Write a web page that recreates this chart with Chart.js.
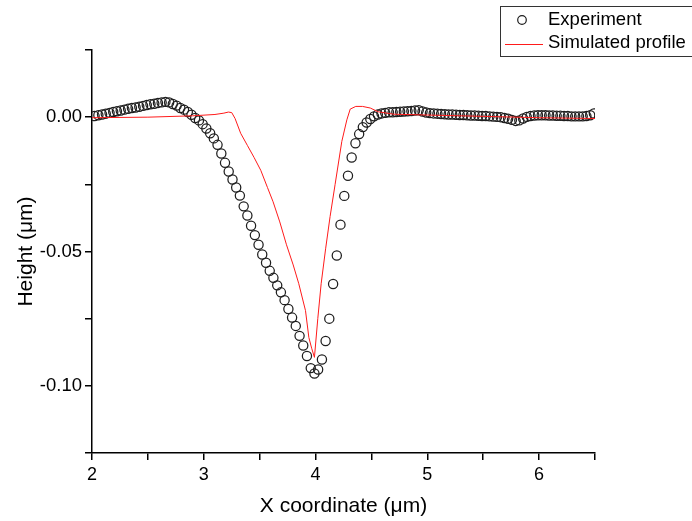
<!DOCTYPE html>
<html>
<head>
<meta charset="utf-8">
<script src="https://cdn.jsdelivr.net/npm/chart.js@4.4.1/dist/chart.umd.min.js"></script>
<style>
html,body{margin:0;padding:0;background:#fff;}
canvas{display:block;}
</style>
</head>
<body>
<canvas id="c" width="692" height="521"></canvas>
<script>
// Experiment: X coordinate (µm)
const expX = [2.023,2.057,2.090,2.123,2.157,2.190,2.223,2.257,2.290,2.323,
2.357,2.390,2.423,2.457,2.490,2.523,2.557,2.590,2.623,2.657,
2.690,2.723,2.757,2.790,2.823,2.857,2.890,2.923,2.957,2.990,
3.023,3.057,3.090,3.123,3.157,3.190,3.223,3.257,3.290,3.323,
3.357,3.390,3.423,3.457,3.490,3.523,3.557,3.590,3.623,3.657,
3.690,3.723,3.757,3.790,3.823,3.857,3.890,3.923,3.957,3.990,
4.023,4.057,4.090,4.123,4.157,4.190,4.223,4.257,4.290,4.323,
4.357,4.390,4.423,4.457,4.490,4.523,4.557,4.590,4.623,4.657,
4.690,4.723,4.757,4.790,4.823,4.857,4.890,4.923,4.957,4.990,
5.023,5.057,5.090,5.123,5.157,5.190,5.223,5.257,5.290,5.323,
5.357,5.390,5.423,5.457,5.490,5.523,5.557,5.590,5.623,5.657,
5.690,5.723,5.757,5.790,5.823,5.857,5.890,5.923,5.957,5.990,
6.023,6.057,6.090,6.123,6.157,6.190,6.223,6.257,6.290,6.323,
6.357,6.390,6.423,6.457,6.490];
// Experiment: Height (µm)
const expY = [0.0004,0.0007,0.0010,0.0013,0.0016,0.0019,0.0022,0.0025,0.0028,0.0031,
0.0034,0.0036,0.0039,0.0042,0.0045,0.0048,0.0050,0.0053,0.0055,0.0057,
0.0055,0.0049,0.0043,0.0034,0.0028,0.0019,0.0009,-0.0003,-0.0012,-0.0026,
-0.0042,-0.0060,-0.0079,-0.0103,-0.0135,-0.0170,-0.0202,-0.0232,-0.0262,-0.0292,
-0.0332,-0.0366,-0.0404,-0.0439,-0.0475,-0.0511,-0.0542,-0.0572,-0.0598,-0.0626,
-0.0652,-0.0681,-0.0714,-0.0746,-0.0777,-0.0814,-0.0850,-0.0889,-0.0934,-0.0954,
-0.0939,-0.0902,-0.0833,-0.0750,-0.0621,-0.0515,-0.0400,-0.0293,-0.0218,-0.0150,
-0.0097,-0.0063,-0.0037,-0.0020,-0.0007,0.0003,0.0010,0.0014,0.0016,0.0018,
0.0018,0.0019,0.0020,0.0021,0.0022,0.0023,0.0025,0.0026,0.0021,0.0017,
0.0015,0.0014,0.0013,0.0012,0.0011,0.0010,0.0010,0.0009,0.0008,0.0008,
0.0007,0.0006,0.0006,0.0005,0.0004,0.0004,0.0003,0.0002,0.0001,0.0000,
-0.0003,-0.0006,-0.0010,-0.0014,-0.0012,-0.0005,0.0001,0.0004,0.0006,0.0007,
0.0007,0.0007,0.0006,0.0006,0.0005,0.0005,0.0004,0.0004,0.0003,0.0003,
0.0003,0.0003,0.0004,0.0007,0.0014];
// Simulated profile
const simX = [2.0,2.5,2.9,3.1,3.18,3.22,3.25,3.28,3.33,3.39,3.45,3.51,3.57,3.62,3.68,3.74,3.80,3.85,3.91,3.94,3.965,3.99,4.02,4.05,4.09,4.13,4.175,4.235,4.28,4.31,4.36,4.42,4.49,4.56,4.70,5.0,5.5,6.0,6.5];
const simY = [-0.0002,0.0000,0.0005,0.0010,0.0015,0.0019,0.0017,-0.0005,-0.0060,-0.0105,-0.0150,-0.0198,-0.0262,-0.0315,-0.0390,-0.0475,-0.0550,-0.0620,-0.0720,-0.0820,-0.0860,-0.0894,-0.0750,-0.0620,-0.0490,-0.0370,-0.0250,-0.0090,-0.0010,0.0030,0.0040,0.0040,0.0034,0.0020,0.0011,0.0008,0.0003,-0.0002,-0.0005];
const seriesNames = ['Experiment', 'Simulated profile'];
const xTitle = 'X coordinate (\u03BCm)';
const yTitle = 'Height (\u03BCm)';
const xLabelTicks = [2,3,4,5,6];
const yLabelTicks = ['0.00','-0.05','-0.10'];

const FONT = "'Liberation Sans', Arial, sans-serif";
Chart.defaults.font.family = FONT;
Chart.defaults.color = '#000';

const expData = expX.map((x,i)=>({x:x, y:expY[i]}));
const simData = simX.map((x,i)=>({x:x, y:simY[i]}));

const legendPlugin = {
  id: 'boxLegend',
  afterDraw(chart) {
    const ctx = chart.ctx;
    ctx.save();
    ctx.strokeStyle = '#333';
    ctx.lineWidth = 1;
    ctx.strokeRect(500.5, 6.5, 200, 50);
    const ds0 = chart.data.datasets[0], ds1 = chart.data.datasets[1];
    ctx.beginPath();
    ctx.arc(522, 20, 4.3, 0, Math.PI*2);
    ctx.strokeStyle = ds0.pointBorderColor;
    ctx.lineWidth = 1.2;
    ctx.stroke();
    ctx.beginPath();
    ctx.moveTo(505, 44.5); ctx.lineTo(543, 44.5);
    ctx.strokeStyle = ds1.borderColor;
    ctx.lineWidth = 1;
    ctx.stroke();
    ctx.fillStyle = '#000';
    ctx.font = '18.5px ' + FONT;
    ctx.textBaseline = 'middle';
    ctx.textAlign = 'left';
    ctx.fillText(ds0.label, 548, 20);
    ctx.fillText(ds1.label, 548, 43);
    ctx.restore();
  }
};

new Chart(document.getElementById('c'), {
  type: 'scatter',
  data: {
    datasets: [
      { label: seriesNames[0], data: expData, showLine: false, order: 1,
        pointStyle: 'circle', pointRadius: 4.6, pointHoverRadius: 4.6,
        pointBorderWidth: 1.25, pointBorderColor: '#1e1e1e', pointBackgroundColor: 'rgba(0,0,0,0)' },
      { label: seriesNames[1], data: simData, showLine: true, order: 0,
        borderColor: '#ff1a1a', borderWidth: 1, pointRadius: 0, tension: 0, fill: false }
    ]
  },
  options: {
    responsive: false,
    animation: false,
    events: [],
    layout: { padding: { left: 0, right: 97, top: 50, bottom: 0 } },
    plugins: { legend: { display: false }, tooltip: { enabled: false } },
    scales: {
      x: {
        type: 'linear', min: 2, max: 6.5,
        afterFit: s => { s.height = 68; },
        border: { display: true, color: '#000', width: 1.5 },
        grid: { display: true, drawOnChartArea: false, drawTicks: true, tickLength: 7, color: '#000', lineWidth: 1.5 },
        ticks: { stepSize: 0.5, autoSkip: false, maxRotation: 0, padding: 4,
          font: { size: 18 },
          callback: v => xLabelTicks.includes(Math.round(v*1000)/1000) ? String(Math.round(v)) : '' },
        title: { display: true, text: xTitle, font: { size: 21 }, padding: { top: 0, bottom: 2 } }
      },
      y: {
        type: 'linear', min: -0.125, max: 0.025,
        afterFit: s => { s.width = 92; },
        border: { display: true, color: '#000', width: 1.5 },
        grid: { display: true, drawOnChartArea: false, drawTicks: true, tickLength: 7, color: '#000', lineWidth: 1.5 },
        ticks: { stepSize: 0.025, autoSkip: false, padding: 3,
          font: { size: 18.5 },
          callback: v => { const s = (Math.round(v*1000)/1000).toFixed(2); return yLabelTicks.includes(s) && Math.round(v*1000) % 50 === 0 ? s : ''; } },
        title: { display: true, text: yTitle, font: { size: 21 }, padding: { top: 14, bottom: 0 } }
      }
    }
  },
  plugins: [legendPlugin]
});
</script>
</body>
</html>
